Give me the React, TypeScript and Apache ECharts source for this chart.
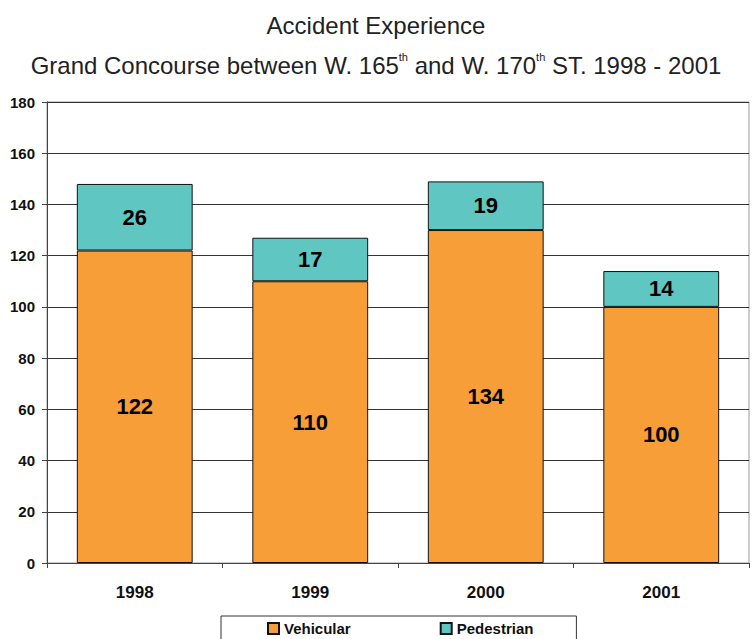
import React, { useEffect, useRef } from "react";
import * as echarts from "echarts";

const years = ["1998", "1999", "2000", "2001"];
const vehicular = [122, 110, 130, 100];
const vehicularLabels = ["122", "110", "134", "100"];
const pedestrian = [26, 17, 19, 14];
const pedestrianLabels = ["26", "17", "19", "14"];

export default function App() {
  const ref = useRef<HTMLDivElement>(null);
  useEffect(() => {
    const chart = echarts.init(ref.current!, undefined, { renderer: "svg" });
    const font = "'Liberation Sans', Arial, sans-serif";
    chart.setOption({
      animation: false,
      textStyle: { fontFamily: font },
      title: [
        {
          text: "Accident Experience",
          left: "center",
          top: 8,
          textStyle: { fontSize: 24, fontWeight: "normal", color: "#222", fontFamily: font },
        },
        {
          text: "Grand Concourse between W. 165{sup|th} and W. 170{sup|th} ST. 1998 - 2001",
          left: "center",
          top: 46,
          textStyle: {
            fontSize: 24,
            fontWeight: "normal",
            color: "#222",
            fontFamily: font,
            lineHeight: 28,
            rich: {
              sup: { fontSize: 11, color: "#222", fontFamily: font, verticalAlign: "top", lineHeight: 28, padding: [0, 0, 10, 0] },
            },
          },
        },
      ],
      legend: {
        left: 221,
        top: 616,
        padding: [5, 43, 12, 46],
        itemGap: 89,
        itemWidth: 11,
        itemHeight: 11,
        borderColor: "#333",
        borderWidth: 1,
        icon: "rect",
        textStyle: { fontSize: 15, fontWeight: "bold", color: "#111", fontFamily: font },
        data: ["Vehicular", "Pedestrian"],
      },
      grid: {
        left: 47,
        right: 3,
        top: 102,
        bottom: 76,
        show: true,
        borderColor: "#999",
        borderWidth: 1,
      },
      xAxis: {
        type: "category",
        data: years,
        axisLine: { lineStyle: { color: "#444", width: 1 } },
        axisTick: { show: true, length: 5, lineStyle: { color: "#444" } },
        axisLabel: { margin: 21, fontSize: 17, fontWeight: "bold", color: "#111", fontFamily: font },
      },
      yAxis: {
        type: "value",
        min: 0,
        max: 180,
        interval: 20,
        axisLine: { show: true, lineStyle: { color: "#444", width: 1 } },
        axisTick: { show: true, length: 5, lineStyle: { color: "#444" } },
        axisLabel: { margin: 12, fontSize: 15, fontWeight: "bold", color: "#111", fontFamily: font },
        splitLine: { lineStyle: { color: "#333", width: 1 } },
      },
      series: [
        {
          name: "Vehicular",
          type: "bar",
          stack: "total",
          barWidth: "66%",
          data: vehicular,
          itemStyle: { color: "#F89E38", borderColor: "#111", borderWidth: 1 },
          label: {
            show: true,
            position: "inside",
            formatter: (p: any) => vehicularLabels[p.dataIndex],
            fontSize: 22,
            fontWeight: "bold",
            color: "#000",
            fontFamily: font,
          },
        },
        {
          name: "Pedestrian",
          type: "bar",
          stack: "total",
          barWidth: "66%",
          data: pedestrian,
          itemStyle: { color: "#5FC6C1", borderColor: "#111", borderWidth: 1 },
          label: {
            show: true,
            position: "inside",
            formatter: (p: any) => pedestrianLabels[p.dataIndex],
            fontSize: 22,
            fontWeight: "bold",
            color: "#000",
            fontFamily: font,
          },
        },
      ],
    });
    return () => chart.dispose();
  }, []);
  return (
    <div
      ref={ref}
      style={{ position: "absolute", left: 0, top: 0, width: 752, height: 639, background: "#fff" }}
    />
  );
}
